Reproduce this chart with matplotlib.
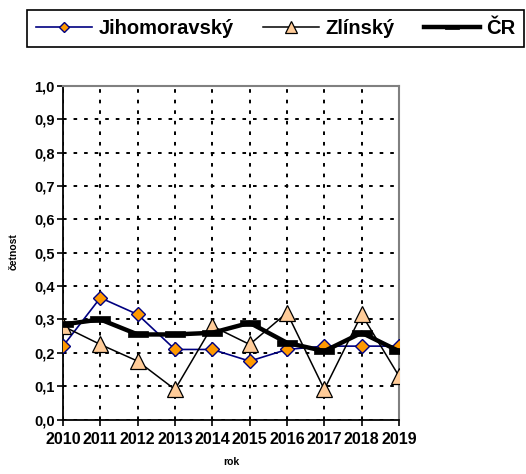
import matplotlib
matplotlib.use("Agg")
import matplotlib.pyplot as plt
from matplotlib.ticker import FuncFormatter, MultipleLocator

years = [2010, 2011, 2012, 2013, 2014, 2015, 2016, 2017, 2018, 2019]
jihomoravsky = [0.22, 0.365, 0.315, 0.21, 0.21, 0.175, 0.21, 0.22, 0.22, 0.22]
zlinsky = [0.28, 0.225, 0.175, 0.09, 0.28, 0.225, 0.32, 0.09, 0.315, 0.13]
cr = [0.285, 0.30, 0.255, 0.255, 0.26, 0.29, 0.23, 0.205, 0.26, 0.205]
series_names = ["Jihomoravský", "Zlínský", "ČR"]

plt.rcParams['font.family'] = ['Liberation Sans', 'DejaVu Sans']
plt.rcParams['lines.scale_dashes'] = False

W, H = 526, 474
fig = plt.figure(figsize=(W / 100, H / 100), dpi=100)
ax = fig.add_axes([63 / W, 1 - 419.5 / H, (399 - 63) / W, (419.5 - 86) / H])

bar_marker = [(-1, -0.35), (1, -0.35), (1, 0.35), (-1, 0.35), (-1, -0.35)]

ax.plot(years, jihomoravsky, color='#000080', lw=1.2, marker='D', ms=7.5,
        mfc='#FF9900', mec='#000080', mew=1.0, label=series_names[0], zorder=3)
ax.plot(years, zlinsky, color='black', lw=1.1, marker='^', ms=12,
        mfc='#FFCC99', mec='black', mew=0.9, label=series_names[1], zorder=4)
ax.plot(years, cr, color='black', lw=3.2, marker=bar_marker, ms=14,
        mfc='black', mec='black', mew=0.5, label=series_names[2], zorder=5)

ax.set_xlim(2010, 2019)
ax.set_ylim(0, 1.0)
ax.set_xticks(years)
ax.yaxis.set_major_locator(MultipleLocator(0.1))
ax.yaxis.set_major_formatter(FuncFormatter(lambda v, p: f"{v:.1f}".replace('.', ',')))

ax.grid(True, color='black', lw=1.4, linestyle=(0, (2.6, 5.0)))
ax.set_axisbelow(True)

for s in ['left', 'bottom']:
    ax.spines[s].set_color('black')
    ax.spines[s].set_linewidth(1.3)
for s in ['top', 'right']:
    ax.spines[s].set_color('#808080')
    ax.spines[s].set_linewidth(1.5)

ax.tick_params(axis='both', direction='out', length=4, width=1.2, color='black')
ax.tick_params(axis='x', labelsize=11.5, pad=5)
ax.tick_params(axis='y', labelsize=10.5, pad=2)
for lab in ax.get_xticklabels() + ax.get_yticklabels():
    lab.set_fontweight('bold')

fig.text(14 / W, 1 - 252 / H, "četnost", rotation=90, ha='center', va='center',
         fontsize=7.5, fontweight='bold')
fig.text(231 / W, 1 - 462 / H, "rok", ha='center', va='center',
         fontsize=7.5, fontweight='bold')

leg = fig.legend(loc='upper left', bbox_to_anchor=(27 / W, 1 - 10 / H), ncol=3,
                 frameon=True, fancybox=False, framealpha=1, edgecolor='black',
                 prop={'size': 14.5, 'weight': 'bold'}, handlelength=2.8,
                 handletextpad=0.3, columnspacing=1.45, borderpad=0.45,
                 markerscale=0.7, borderaxespad=0)
leg.get_frame().set_linewidth(1.2)

fig.savefig("out.png", dpi=100)
